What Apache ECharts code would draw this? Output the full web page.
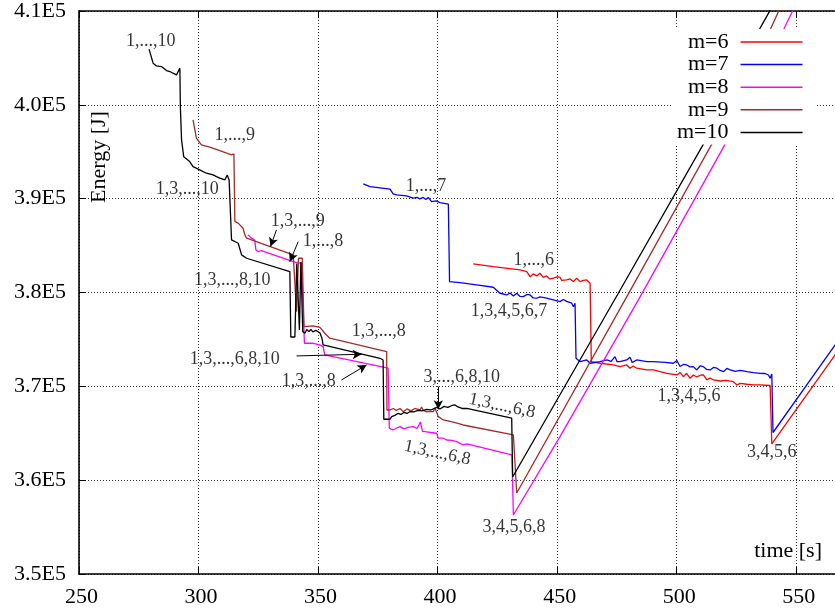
<!DOCTYPE html>
<html>
<head>
<meta charset="utf-8">
<script src="https://cdn.jsdelivr.net/npm/echarts@6/dist/echarts.min.js"></script>
<style>
html, body { margin: 0; padding: 0; overflow: hidden; background: #fff; }
#chart { width: 845px; height: 611px; }
</style>
</head>
<body>
<div id="chart"></div>
<script>
// Axis ticks
const timeTicks = [250, 300, 350, 400, 450, 500, 550];
const timeMax = 570;
const energyTicks = [350000, 360000, 370000, 380000, 390000, 400000, 410000];
const energyTickLabels = ['3.5E5', '3.6E5', '3.7E5', '3.8E5', '3.9E5', '4.0E5', '4.1E5'];

// Series: [time s, energy J]
const seriesNames = ['m=6', 'm=7', 'm=8', 'm=9', 'm=10'];

const m6 = [
  [414.9, 383050], [423.3, 382760], [434.5, 382410], [437.3, 382230], [438.7, 381690],
  [440.0, 381980], [441.5, 381770], [442.8, 382060], [444.2, 381610], [445.6, 381770],
  [447.0, 381450], [448.4, 381520], [449.8, 381660], [451.2, 381630], [451.9, 381290],
  [454.0, 381340], [455.4, 381450], [456.8, 381160], [458.2, 381520], [459.6, 381160],
  [461.0, 381290], [462.4, 381340], [463.8, 380990], [464.3, 372630], [468.0, 372460],
  [473.5, 372280], [476.3, 372100], [479.1, 372280], [480.5, 371930], [481.8, 372170],
  [483.3, 371930], [487.5, 371750], [490.3, 371750], [495.9, 371390], [500.1, 371210],
  [501.4, 371480], [502.8, 371030], [504.2, 371390], [505.6, 370860], [507.0, 371210],
  [508.4, 371000], [509.1, 370860], [510.2, 371210], [511.2, 371210], [512.6, 370680],
  [514.0, 370890], [515.4, 370680], [518.2, 370570], [520.7, 370630], [523.7, 370500],
  [525.2, 370150], [526.6, 370310], [529.4, 370220], [532.1, 370150], [534.9, 370150],
  [539.1, 370090], [539.8, 363860], [566.3, 373350], [575.0, 376460]
];

const m7 = [
  [368.9, 391570], [371.7, 391290], [375.9, 391150], [380.1, 391010], [381.4, 390510],
  [382.9, 390400], [387.0, 390300], [389.8, 390050], [391.4, 390130], [392.6, 389980],
  [394.0, 390130], [395.1, 389920], [396.1, 390130], [397.5, 389690], [399.3, 389760],
  [401.0, 389580], [404.5, 389410], [405.0, 381160], [409.4, 381050], [416.3, 380810],
  [423.3, 380560], [426.1, 379920], [428.9, 379740], [430.3, 379950], [431.7, 379630],
  [433.1, 379920], [434.5, 379580], [435.9, 379560], [437.3, 379790], [438.7, 379740],
  [440.0, 379420], [441.5, 379390], [442.8, 379530], [445.6, 379390], [448.4, 379210],
  [451.2, 379030], [452.6, 379260], [454.0, 379050], [456.1, 378860], [456.8, 378490],
  [457.5, 378860], [457.9, 372990], [459.6, 372630], [462.4, 372810], [463.8, 372460],
  [468.0, 372630], [470.8, 372810], [472.6, 372650], [474.2, 373160], [475.1, 372630],
  [476.3, 372630], [479.1, 372810], [480.5, 373100], [481.4, 372550], [483.3, 372810],
  [487.5, 372630], [490.3, 372630], [495.2, 372550], [498.6, 372460], [500.1, 372760],
  [501.4, 372120], [502.8, 372330], [504.2, 372280], [505.6, 372070], [507.0, 372100],
  [508.4, 371750], [509.8, 372170], [511.2, 372100], [512.6, 371800], [514.0, 371750],
  [515.4, 372010], [516.8, 371930], [518.2, 371690], [519.6, 371570], [521.0, 371910],
  [522.4, 371750], [524.5, 371590], [526.6, 371690], [529.4, 371570], [532.1, 371460],
  [534.9, 371390], [537.0, 371370], [538.4, 371210], [539.1, 370860], [539.8, 371320],
  [540.3, 365080], [566.3, 374410], [575.0, 377530]
];

const m8 = [
  [320.7, 386140], [322.2, 385790], [323.5, 385600], [324.0, 384540], [324.9, 384360],
  [326.3, 384460], [327.0, 384360], [339.6, 383290], [341.0, 383190], [343.1, 383120],
  [344.3, 374590], [345.2, 374590], [347.9, 374590], [350.8, 374410], [352.1, 374230],
  [352.8, 373350], [379.3, 371930], [379.8, 365530], [381.4, 365350], [382.9, 365560],
  [384.3, 365700], [385.9, 365460], [387.6, 365620], [389.8, 365700], [391.4, 365510],
  [392.8, 366200], [393.7, 365190], [395.5, 365140], [397.2, 365080], [399.6, 365000],
  [400.3, 364470], [402.4, 364470], [403.8, 364280], [406.0, 364230], [408.0, 364100],
  [410.7, 363750], [412.2, 363860], [431.1, 362690], [431.7, 356290], [451.2, 364640],
  [484.0, 379210], [520.3, 395810], [545.0, 408170], [548.4, 409940], [550.5, 411000]
];

const m9 = [
  [297.7, 398400], [299.1, 396450], [301.2, 395730], [304.7, 395490], [308.9, 395120],
  [313.8, 394670], [314.8, 394770], [315.2, 387560], [316.6, 387390], [318.6, 386850],
  [319.4, 386140], [320.1, 385790], [322.2, 385600], [339.6, 384010], [340.3, 384190],
  [341.0, 377960], [341.8, 383650], [342.6, 383650], [343.4, 383650], [344.1, 376360],
  [347.9, 376440], [350.8, 376280], [352.8, 375660], [354.9, 375130], [378.7, 373700],
  [378.8, 367480], [380.1, 367480], [381.4, 367640], [382.7, 367430], [384.3, 367640],
  [385.6, 367300], [387.2, 367590], [388.8, 367380], [390.5, 367640], [392.6, 367480],
  [393.3, 367800], [394.0, 367430], [395.5, 367270], [396.8, 367320], [398.2, 367300],
  [398.9, 367700], [400.3, 366770], [402.4, 366420], [405.2, 366260], [407.7, 366100],
  [410.7, 365880], [431.7, 364820], [433.1, 358630], [478.4, 379210], [514.7, 395810],
  [539.4, 408170], [542.6, 409940], [544.5, 411000]
];

const m10 = [
  [279.3, 405930], [281.0, 404440], [282.4, 404150], [284.5, 404080], [286.6, 403650],
  [288.0, 403550], [289.3, 403370], [290.8, 403190], [292.2, 403910], [292.4, 399810],
  [292.9, 396260], [293.8, 394480], [296.3, 393950], [297.7, 393420], [300.5, 393070],
  [303.3, 392710], [306.1, 392530], [307.5, 392350], [308.9, 392180], [311.0, 392000],
  [312.0, 392530], [312.8, 392000], [313.8, 385600], [316.6, 385250], [318.0, 384010],
  [320.1, 383650], [338.2, 382230], [338.6, 375260], [340.3, 375260], [341.1, 383100],
  [342.2, 376010], [342.8, 383260], [343.6, 375830], [344.5, 375660], [345.3, 376060],
  [346.2, 375830], [347.0, 376060], [347.8, 375800], [349.1, 375960], [349.9, 375830],
  [350.8, 375690], [351.6, 375160], [352.1, 374410], [375.9, 372990], [377.2, 372810],
  [377.5, 366490], [380.1, 366490], [380.8, 366770], [382.1, 366900], [383.4, 367110],
  [384.7, 367000], [385.9, 367220], [387.2, 367110], [388.5, 367320], [390.1, 367270],
  [391.8, 367430], [393.4, 367380], [395.4, 367540], [397.2, 367480], [399.6, 367750],
  [401.0, 367590], [402.7, 367860], [404.3, 367750], [406.0, 367960], [407.3, 368020],
  [408.5, 367800], [410.2, 367640], [412.2, 367640], [431.0, 366600], [431.4, 360340],
  [475.6, 379920], [511.2, 395810], [534.9, 408170], [538.8, 409940], [541.0, 411000]
];

// Text notes: [time, energy, text]
const notes = [
  [280.0, 406820, '1,...,10'],
  [315.2, 396800, '1,...,9'],
  [295.3, 390990, '1,3,...,10'],
  [341.5, 387580, '1,3,...,9'],
  [352.1, 385500, '1,...,8'],
  [314.1, 381340, '1,3,...,8,10'],
  [315.2, 372920, '1,3,...,6,8,10'],
  [346.1, 370570, '1,3,...,8'],
  [375.4, 375900, '1,3,...,8'],
  [410.1, 370950, '3,...,6,8,10'],
  [395.1, 391360, '1,...,7'],
  [440.2, 383470, '1,...,6'],
  [429.9, 378040, '1,3,4,5,6,7'],
  [432.0, 355010, '3,4,5,6,8'],
  [505.2, 368970, '1,3,4,5,6'],
  [539.8, 362950, '3,4,5,6']
];
// Notes written along the sloping segments
const slantedNotes = [
  [426.9, 367910, '1,3,...,6,8'],
  [399.9, 362900, '1,3,...,6,8']
];

// Pointer arrows: [[t0, E0], [t1, E1]] (tail, head)
const arrows = [
  [[332.6, 386670], [330.1, 384890]],
  [[341.7, 385420], [338.2, 383290]],
  [[341.0, 373240], [368.2, 373420]],
  [[359.8, 370680], [370.3, 372280]],
  [[400.3, 369970], [400.3, 367560]]
];

const colors = ['#ff0000', '#0000ff', '#ff00ff', '#a52a2a', '#000000'];
const seriesData = [m6, m7, m8, m9, m10];
const FONT = "'Liberation Serif', 'DejaVu Serif', serif";

const chart = echarts.init(document.getElementById('chart'), null, { renderer: 'canvas' });

const lineSeries = seriesNames.map((name, i) => ({
  name: name,
  type: 'line',
  data: seriesData[i],
  showSymbol: false,
  symbol: 'none',
  clip: true,
  color: colors[i],
  lineStyle: { color: colors[i], width: 1.3 },
  z: 2 + i * 0.01,
  animation: false
}));

const noteLabel = {
  show: true,
  position: 'inside',
  formatter: '{b}',
  fontFamily: FONT,
  fontSize: 18,
  color: '#000'
};

const option = {
  animation: false,
  backgroundColor: '#fff',
  color: colors,
  grid: { left: 79, right: 1, top: 11, bottom: 37, containLabel: false },
  legend: {
    orient: 'vertical',
    align: 'right',
    left: 673,
    top: 29,
    padding: [2, 14, 1, 4],
    backgroundColor: '#fff',
    itemGap: 0.6,
    itemWidth: 62,
    itemHeight: 1.5,
    icon: 'rect',
    data: seriesNames,
    selectedMode: false,
    textStyle: { fontFamily: FONT, fontSize: 22, color: '#000', lineHeight: 22, padding: [0, 7, 0, 0] }
  },
  xAxis: [{
    type: 'value',
    position: 'bottom',
    min: timeTicks[0],
    max: timeMax,
    interval: timeTicks[1] - timeTicks[0],
    axisLine: { show: true, lineStyle: { color: '#000', width: 1.6 } },
    axisTick: { show: true, inside: true, length: 7, lineStyle: { color: '#000', width: 1 } },
    axisLabel: {
      margin: 12, fontFamily: FONT, fontSize: 22, color: '#000', showMaxLabel: false,
      padding: [0, 0, 0, 5],
      formatter: v => (timeTicks.indexOf(v) >= 0 ? String(v) : '')
    },
    splitLine: { show: true, lineStyle: { color: '#333', width: 1, type: [1, 2] } }
  }, {
    type: 'value',
    position: 'top',
    min: timeTicks[0],
    max: timeMax,
    interval: timeTicks[1] - timeTicks[0],
    axisLine: { show: true, lineStyle: { color: '#000', width: 1.6 } },
    axisTick: { show: true, inside: true, length: 7, lineStyle: { color: '#000', width: 1 } },
    axisLabel: { show: false },
    splitLine: { show: false }
  }],
  yAxis: {
    type: 'value',
    min: energyTicks[0],
    max: energyTicks[energyTicks.length - 1],
    interval: energyTicks[1] - energyTicks[0],
    axisLine: { show: true, lineStyle: { color: '#000', width: 1.6 } },
    axisTick: { show: true, inside: true, length: 7, lineStyle: { color: '#000', width: 1 } },
    axisLabel: {
      margin: 13, fontFamily: FONT, fontSize: 22, color: '#000',
      formatter: v => {
        const k = energyTicks.indexOf(v);
        return k >= 0 ? energyTickLabels[k] : '';
      }
    },
    splitLine: { show: true, lineStyle: { color: '#333', width: 1, type: [1, 2] } }
  },
  series: lineSeries.concat([
    {
      name: 'notes',
      type: 'scatter',
      symbolSize: 0,
      data: notes.map(n => ({ name: n[2], value: [n[0], n[1]] })),
      label: noteLabel,
      z: 5,
      silent: true,
      markLine: {
        silent: true,
        symbol: ['none', 'arrow'],
        symbolSize: [7, 9],
        label: { show: false },
        lineStyle: { color: '#000', width: 1, type: 'solid' },
        data: arrows.map(a => [{ coord: a[0] }, { coord: a[1] }]),
        animation: false
      }
    },
    {
      name: 'slanted notes',
      type: 'scatter',
      symbolSize: 0,
      data: slantedNotes.map(n => ({ name: n[2], value: [n[0], n[1]] })),
      label: Object.assign({}, noteLabel, { rotate: -12 }),
      z: 5,
      silent: true
    }
  ]),
  graphic: [
    {
      type: 'text',
      x: 99, y: 157,
      rotation: Math.PI / 2,
      style: { text: 'Energy [J]', font: "22px 'Liberation Serif', serif", fill: '#000', align: 'center', verticalAlign: 'middle' },
      z: 10
    },
    {
      type: 'text',
      x: 822, y: 551,
      style: { text: 'time [s]', font: "22px 'Liberation Serif', serif", fill: '#000', align: 'right', verticalAlign: 'middle' },
      z: 10
    }
  ]
};

chart.setOption(option);
</script>
</body>
</html>
